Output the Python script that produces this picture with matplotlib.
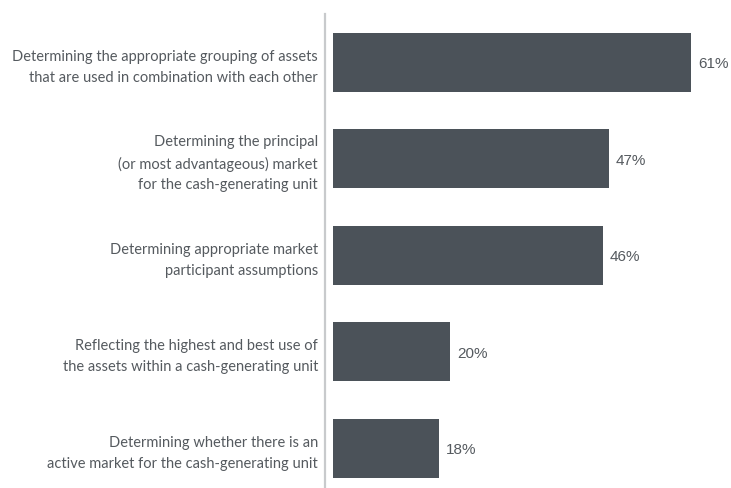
import matplotlib
matplotlib.use("Agg")
import matplotlib.pyplot as plt

categories = [
    "Determining the appropriate grouping of assets\nthat are used in combination with each other",
    "Determining the principal\n(or most advantageous) market\nfor the cash-generating unit",
    "Determining appropriate market\nparticipant assumptions",
    "Reflecting the highest and best use of\nthe assets within a cash-generating unit",
    "Determining whether there is an\nactive market for the cash-generating unit",
]
values = [61, 47, 46, 20, 18]

bar_color = "#4b5259"
text_color = "#555a5f"

fig = plt.figure(figsize=(7.31, 4.88), dpi=100)
ax = fig.add_axes([325/731, 1 - 487/488, (731-325)/731, (487-14)/488])

ypos = list(range(len(values)))
ax.barh(ypos, values, height=0.61, color=bar_color)
ax.set_xlim(-1.36, 67.8)
ax.set_ylim(4.40, -0.50)

for y, v in zip(ypos, values):
    ax.text(v + 1.2, y + 0.02, f"{v}%", va="center", ha="left",
            fontsize=11, color=text_color, family="Liberation Sans")

ax.set_yticks(ypos)
ax.set_yticklabels(categories, fontsize=10.5, color=text_color, family="Lato",
                   linespacing=1.62)
ax.tick_params(axis="y", length=0, pad=5)
ax.set_xticks([])
for s in ["top", "right", "bottom"]:
    ax.spines[s].set_visible(False)
ax.spines["left"].set_color("#c8cacc")
ax.spines["left"].set_linewidth(1.6)

fig.savefig("out.png", dpi=100)
